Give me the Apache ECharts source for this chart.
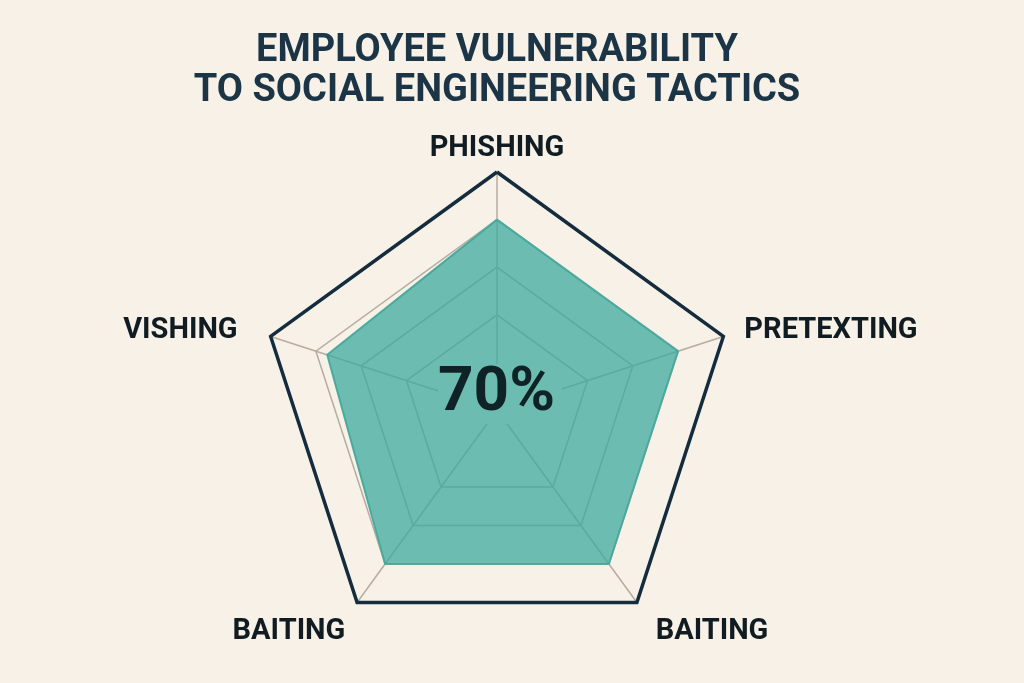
<!DOCTYPE html>
<html>
<head>
<meta charset="utf-8">
<script src="https://cdn.jsdelivr.net/npm/echarts@6/dist/echarts.min.js"></script>
<style>
  html, body { margin: 0; padding: 0; background: #f8f1e7; }
  #chart { width: 1024px; height: 683px; }
</style>
</head>
<body>
<div id="chart"></div>
<script>
// Data (order: counter-clockwise from top, as ECharts lays out radar indicators)
const categories = ['PHISHING', 'VISHING', 'BAITING', 'BAITING', 'PRETEXTING'];
const vulnerability = [80, 75, 80, 80, 80];
const maxValue = 100;
const centerLabel = '70%';
const titleLines = ['EMPLOYEE VULNERABILITY', 'TO SOCIAL ENGINEERING TACTICS'];

const BG = '#f8f1e7';
const NAVY = '#142c3d';
const GRID = '#b6aca0';
const TEAL_BASE = '#3daaa0';
const TEAL_SEEN = '#6cbcb2';

const indicators = categories.map(n => ({ name: n, max: maxValue }));
const center = [497, 410];
const radius = 238;

const nameFont = { fontFamily: 'Roboto', fontSize: 29, fontWeight: 'bold', color: '#111c22' };
const richKey = { PHISHING: 'top', VISHING: 'left', BAITING: 'bot', PRETEXTING: 'right' };

const chart = echarts.init(document.getElementById('chart'));
chart.setOption({
  backgroundColor: BG,
  title: {
    text: titleLines.join('\n'),
    left: 497,
    textAlign: 'center',
    top: 31,
    padding: 0,
    textStyle: {
      fontFamily: 'Roboto',
      fontSize: 38,
      fontWeight: 'bold',
      color: '#1b3446',
      lineHeight: 40
    }
  },
  radar: [
    {
      indicator: indicators,
      center: center,
      radius: radius,
      startAngle: 90,
      splitNumber: 5,
      shape: 'polygon',
      nameGap: 20,
      axisName: Object.assign({
        lineHeight: 20,
        formatter: function (name) {
          return '{' + (richKey[name] || 'right') + '|' + name + '}';
        },
        rich: {
          top: Object.assign({ lineHeight: 6 }, nameFont),
          left: Object.assign({ lineHeight: 20, padding: [0, 14, 0, 0] }, nameFont),
          bot: Object.assign({ lineHeight: 20, padding: [26, 0, 0, 7] }, nameFont),
          right: Object.assign({ lineHeight: 20, padding: [0, 0, 0, 2] }, nameFont)
        }
      }, nameFont),
      axisLine: { lineStyle: { color: GRID, width: 1.5 } },
      splitLine: { lineStyle: { color: ['none', 'none', GRID, GRID, GRID, 'none'], width: 1.5 } },
      splitArea: { show: false },
      axisTick: { show: false },
      axisLabel: { show: false }
    },
    {
      indicator: indicators,
      center: center,
      radius: radius,
      startAngle: 90,
      splitNumber: 1,
      shape: 'polygon',
      z: 5,
      axisName: { show: false },
      axisLine: { show: false },
      splitLine: { lineStyle: { color: NAVY, width: 3.5 } },
      splitArea: { show: false },
      axisTick: { show: false },
      axisLabel: { show: false }
    }
  ],
  series: [
    {
      type: 'radar',
      radarIndex: 0,
      symbol: 'none',
      z: 2,
      lineStyle: { color: '#55aa9e', width: 2 },
      areaStyle: { color: TEAL_BASE, opacity: 0.75 },
      data: [{ value: vulnerability, name: 'Vulnerability' }]
    }
  ],
  graphic: [
    {
      type: 'text',
      left: 438,
      top: 363,
      z: 10,
      style: {
        text: centerLabel,
        width: 124,
        height: 60,
        fontFamily: 'Roboto',
        fontSize: 62,
        fontWeight: 'bold',
        fill: '#0f2225',
        backgroundColor: TEAL_SEEN,
        align: 'center',
        verticalAlign: 'middle',
        lineHeight: 60
      }
    }
  ]
});
</script>
</body>
</html>
